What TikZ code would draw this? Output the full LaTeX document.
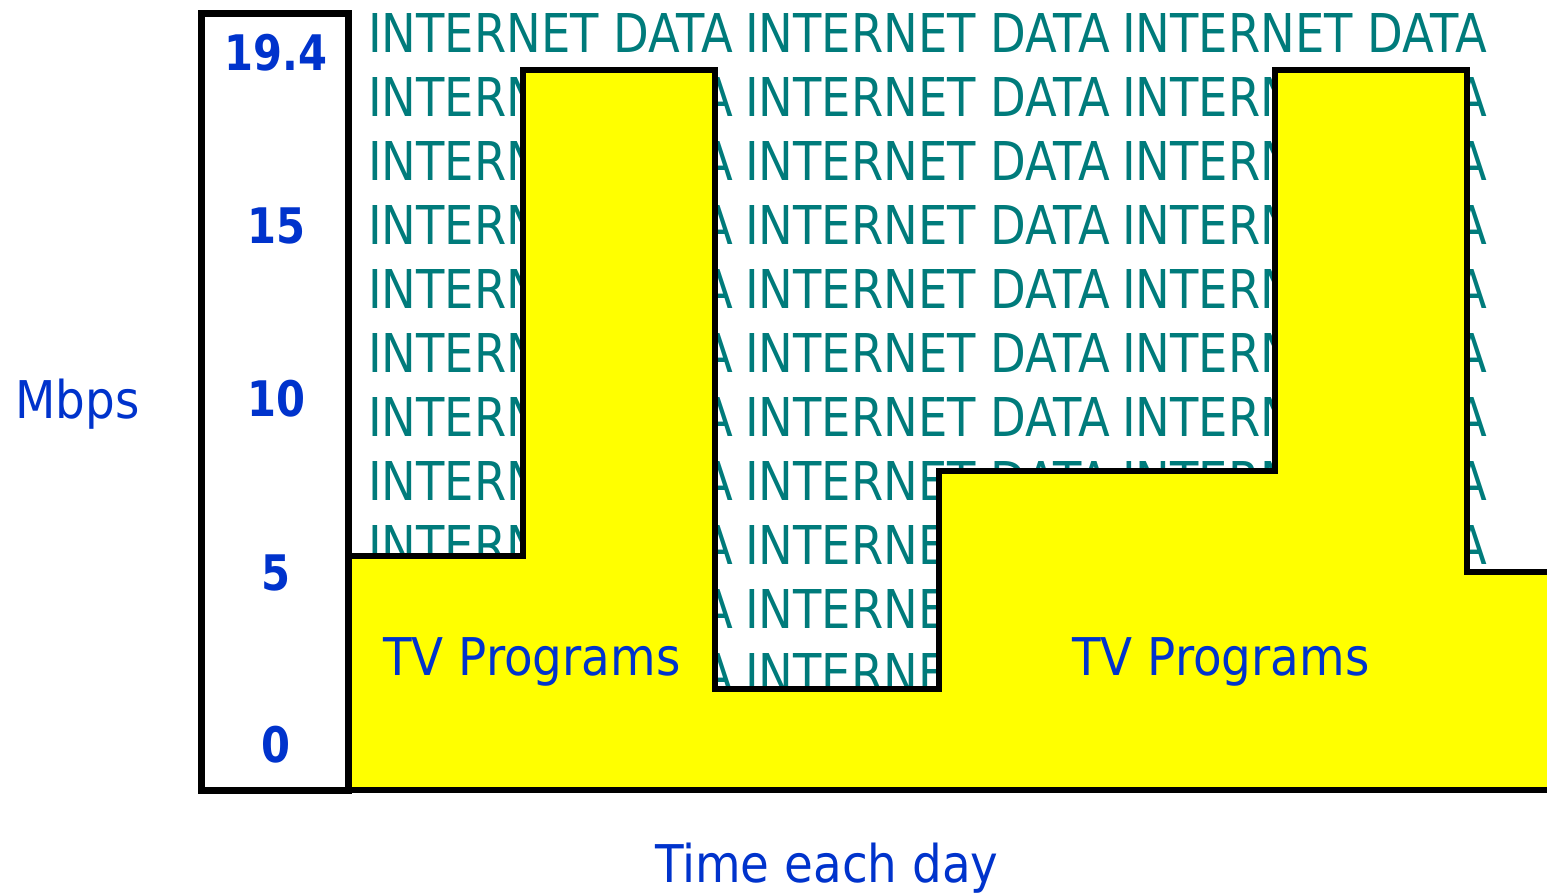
\documentclass[tikz,border=0pt]{standalone}
\usepackage{fontspec}
\setmainfont{DejaVu Sans}[FakeStretch=0.85]
\newfontfamily\datafont{DejaVu Sans}[FakeStretch=0.867]
\newfontfamily\labelfont{DejaVu Sans}[FakeStretch=0.9]
\definecolor{datateal}{RGB}{0,123,123}
\definecolor{labelblue}{RGB}{0,51,204}
\definecolor{tvyellow}{RGB}{255,255,0}

\begin{document}
\begin{tikzpicture}[x=1pt,y=-1pt,
  datatext/.style={anchor=base west, inner sep=0pt, text=datateal,
    font=\datafont\fontsize{53.5}{60}\selectfont},
  ticklabel/.style={anchor=base, inner sep=0pt, text=labelblue,
    font=\fontsize{49}{55}\selectfont\bfseries},
  bluetext/.style={anchor=base west, inner sep=0pt, text=labelblue,
    font=\labelfont\fontsize{52}{60}\selectfont},
  tvband/.style={line width=6pt, line join=miter, fill=tvyellow},
  axisframe/.style={line width=7pt, line join=miter}]

\useasboundingbox (0,0) rectangle (1547,892);

% background of repeated data words
\foreach \r in {0,...,10}
  \foreach \c/\x in {0/368,1/745,2/1122}
    \node[datatext] (data-\r-\c) at ({\x},{52+64*\r}) {INTERNET DATA};

% bandwidth taken by TV programs over the day
\draw[tvband] (348,556) -| (523,70) -| (715,689) -| (939,471)
  -| (1275,70) -| (1467,572) -- (1565,572) -- (1565,790) -- (348,790) -- cycle;

% scale column
\draw[axisframe] (201,13) rectangle (348,790);

\node[ticklabel] (t194) at (276,70) {19.4};
\node[ticklabel] (t15) at (276,243) {15};
\node[ticklabel] (t10) at (276,416) {10};
\node[ticklabel] (t5) at (276,590) {5};
\node[ticklabel] (t0) at (276,762) {0};

\node[bluetext] (unit) at (15,418) {Mbps};
\node[bluetext] (tv1) at (383,675) {TV Programs};
\node[bluetext] (tv2) at (1072,675) {TV Programs};
\node[bluetext] (time) at (655,882) {Time each day};
\end{tikzpicture}
\end{document}
